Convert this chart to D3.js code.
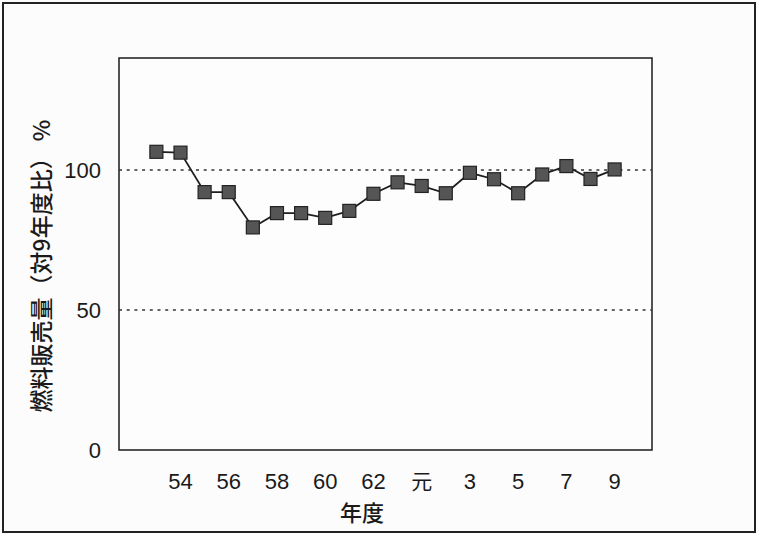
<!DOCTYPE html>
<html>
<head>
<meta charset="utf-8">
<script src="https://cdn.jsdelivr.net/npm/d3@7"></script>
<style>
  body { margin: 0; background: #fcfcfc; }
  text { font-family: "Liberation Sans", Arial, "Noto Sans CJK JP", sans-serif; fill: #1a1a1a; }
  .jp { font-family: "Noto Sans CJK JP", sans-serif; }
</style>
</head>
<body>
<div id="chart"></div>
<script>
// fiscal years (Showa 53 .. Heisei 9)
const years = ["53","54","55","56","57","58","59","60","61","62","63","元","2","3","4","5","6","7","8","9"]
const sales = [106.5,106.2,92.1,92.1,79.5,84.6,84.6,82.9,85.4,91.5,95.6,94.3,91.7,99.0,96.7,91.7,98.4,101.4,96.8,100.2]
const yTicks = [0, 50, 100]
const gridLines = [50, 100]
const xLabels = ["54","56","58","60","62","元","3","5","7","9"]

const width = 757,
    height = 534;

const plot = { left: 119, right: 652, top: 58, bottom: 450 }

const svg = d3.select("#chart")
  .append("svg")
    .attr("width", width)
    .attr("height", height)

// outer frame
svg.append("rect")
  .attr("x", 3).attr("y", 3)
  .attr("width", width - 5).attr("height", height - 5)
  .attr("fill", "#fcfcfc")
  .attr("stroke", "#222")
  .attr("stroke-width", 2)

const x = d3.scalePoint()
  .domain(years)
  .range([plot.left, plot.right])
  .padding(1.55)

const y = d3.scaleLinear()
  .domain([0, 140])
  .range([plot.bottom, plot.top])

// plot area
svg.append("rect")
  .attr("x", plot.left).attr("y", plot.top)
  .attr("width", plot.right - plot.left)
  .attr("height", plot.bottom - plot.top)
  .attr("fill", "#fdfdfd")
  .attr("stroke", "#1a1a1a")
  .attr("stroke-width", 1.5)

// dotted grid lines
svg.selectAll(".grid")
  .data(gridLines)
  .join("line")
    .attr("class", "grid")
    .attr("x1", plot.left).attr("x2", plot.right)
    .attr("y1", d => y(d)).attr("y2", d => y(d))
    .attr("stroke", "#333")
    .attr("stroke-width", 1.6)
    .attr("stroke-dasharray", "3,4.7")

// y tick labels
svg.selectAll(".ylab")
  .data(yTicks)
  .join("text")
    .attr("class", "ylab")
    .attr("x", 101)
    .attr("y", d => y(d))
    .attr("dy", "0.36em")
    .attr("text-anchor", "end")
    .style("font-size", "22px")
    .text(d => d)

// x tick labels (every other year)
svg.selectAll(".xlab")
  .data(xLabels)
  .join("text")
    .attr("class", d => d === "元" ? "xlab jp" : "xlab")
    .attr("x", d => x(d))
    .attr("y", 489)
    .attr("text-anchor", "middle")
    .style("font-size", d => d === "元" ? "21px" : "22px")
    .text(d => d)

// axis titles
svg.append("text")
  .attr("class", "jp")
  .attr("x", 362).attr("y", 521)
  .attr("text-anchor", "middle")
  .style("font-size", "22px")
  .style("font-weight", 500)
  .text("年度")

svg.append("text")
  .attr("class", "jp")
  .attr("transform", `translate(50,${266}) rotate(-90)`)
  .attr("text-anchor", "middle")
  .style("font-size", "23px")
  .style("font-weight", 500)
  .text("燃料販売量（対9年度比） %")

// line
const line = d3.line()
  .x((d, i) => x(years[i]))
  .y(d => y(d))

svg.append("path")
  .datum(sales)
  .attr("d", line)
  .attr("fill", "none")
  .attr("stroke", "#1e1e1e")
  .attr("stroke-width", 1.8)

// square markers
const size = 13
svg.selectAll(".pt")
  .data(sales)
  .join("rect")
    .attr("class", "pt")
    .attr("x", (d, i) => x(years[i]) - size / 2)
    .attr("y", d => y(d) - size / 2)
    .attr("width", size)
    .attr("height", size)
    .attr("fill", "#555")
    .attr("stroke", "#222")
    .attr("stroke-width", 1.2)
</script>
</body>
</html>
